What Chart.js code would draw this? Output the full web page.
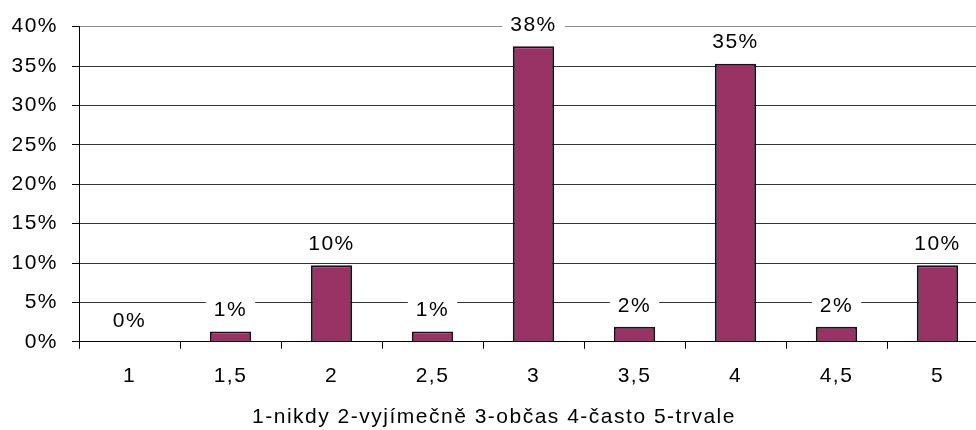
<!DOCTYPE html>
<html>
<head>
<meta charset="utf-8">
<script src="https://cdn.jsdelivr.net/npm/chart.js@4/dist/chart.umd.min.js"></script>
<style>
  html, body { margin: 0; padding: 0; background: #fff; overflow: hidden; width: 976px; height: 430px; }
  #wrap { width: 990px; height: 430px; }
</style>
</head>
<body>
<div id="wrap"><canvas id="c" width="990" height="430"></canvas></div>
<script>
// Answer scale positions and the share of responses at each
const categories = ['1', '1,5', '2', '2,5', '3', '3,5', '4', '4,5', '5'];
const shares = [0, 1.3, 9.7, 1.3, 37.5, 1.9, 35.3, 1.9, 9.7];
const yTicks = [0, 5, 10, 15, 20, 25, 30, 35, 40];
const axisTitle = '1-nikdy 2-vyjímečně 3-občas 4-často 5-trvale';

const FONT = '"Liberation Sans", Arial, Helvetica, sans-serif';
const SPACING = '1.5px';

// Slightly wider lettering for every text on the canvas
const wideText = {
  id: 'wideText',
  beforeUpdate(chart) { chart.ctx.letterSpacing = SPACING; },
  beforeLayout(chart) { chart.ctx.letterSpacing = SPACING; },
  beforeDraw(chart) { chart.ctx.letterSpacing = SPACING; }
};

// Percentage labels above each bar, on a white box that hides the grid behind it
const valueLabels = {
  id: 'valueLabels',
  afterDatasetsDraw(chart) {
    const ctx = chart.ctx;
    const meta = chart.getDatasetMeta(0);
    ctx.save();
    ctx.letterSpacing = SPACING;
    ctx.font = '21px ' + FONT;
    ctx.textAlign = 'center';
    ctx.textBaseline = 'middle';
    meta.data.forEach((bar, i) => {
      const text = Math.round(shares[i]) + '%';
      const y = Math.max(bar.y - 22, chart.chartArea.top - 2);
      const w = ctx.measureText(text).width + 16;
      ctx.fillStyle = '#ffffff';
      ctx.fillRect(bar.x - w / 2, y - 11, w, 22);
      ctx.fillStyle = '#000000';
      ctx.fillText(text, bar.x, y + 1);
    });
    ctx.restore();
  }
};

new Chart(document.getElementById('c'), {
  type: 'bar',
  data: {
    labels: categories,
    datasets: [{
      data: shares,
      backgroundColor: '#993366',
      borderColor: '#141414',
      borderWidth: 2,
      categoryPercentage: 1,
      barPercentage: 0.41
    }]
  },
  options: {
    responsive: false,
    animation: false,
    layout: { padding: { top: 25, right: 2, left: 0, bottom: 0 } },
    plugins: {
      legend: { display: false },
      tooltip: { enabled: false },
      title: {
        display: true,
        position: 'bottom',
        text: axisTitle,
        color: '#000',
        font: { family: FONT, size: 21, weight: 'normal' },
        padding: { top: 0, bottom: 0 }
      }
    },
    scales: {
      x: {
        grid: {
          display: true,
          offset: true,
          drawOnChartArea: false,
          drawTicks: true,
          tickLength: 7,
          tickColor: '#000',
          tickWidth: 1
        },
        border: { display: true, color: '#000', width: 1 },
        ticks: {
          color: '#000',
          font: { family: FONT, size: 21 },
          padding: 15,
          maxRotation: 0,
          autoSkip: false
        },
        afterFit(scale) { scale.height = 63; }
      },
      y: {
        min: 0,
        max: 40,
        afterBuildTicks(scale) { scale.ticks = yTicks.map(v => ({ value: v })); },
        grid: {
          color: ctx => (ctx.tick && ctx.tick.value === 40 ? '#8f8f8f' : '#333333'),
          lineWidth: 1,
          tickLength: 7,
          tickColor: '#000'
        },
        border: { display: true, color: '#000', width: 1 },
        ticks: {
          color: '#000',
          font: { family: FONT, size: 21 },
          padding: 14,
          callback: v => v + '%'
        },
        afterFit(scale) { scale.width = 79; }
      }
    }
  },
  plugins: [wideText, valueLabels]
});
</script>
</body>
</html>
